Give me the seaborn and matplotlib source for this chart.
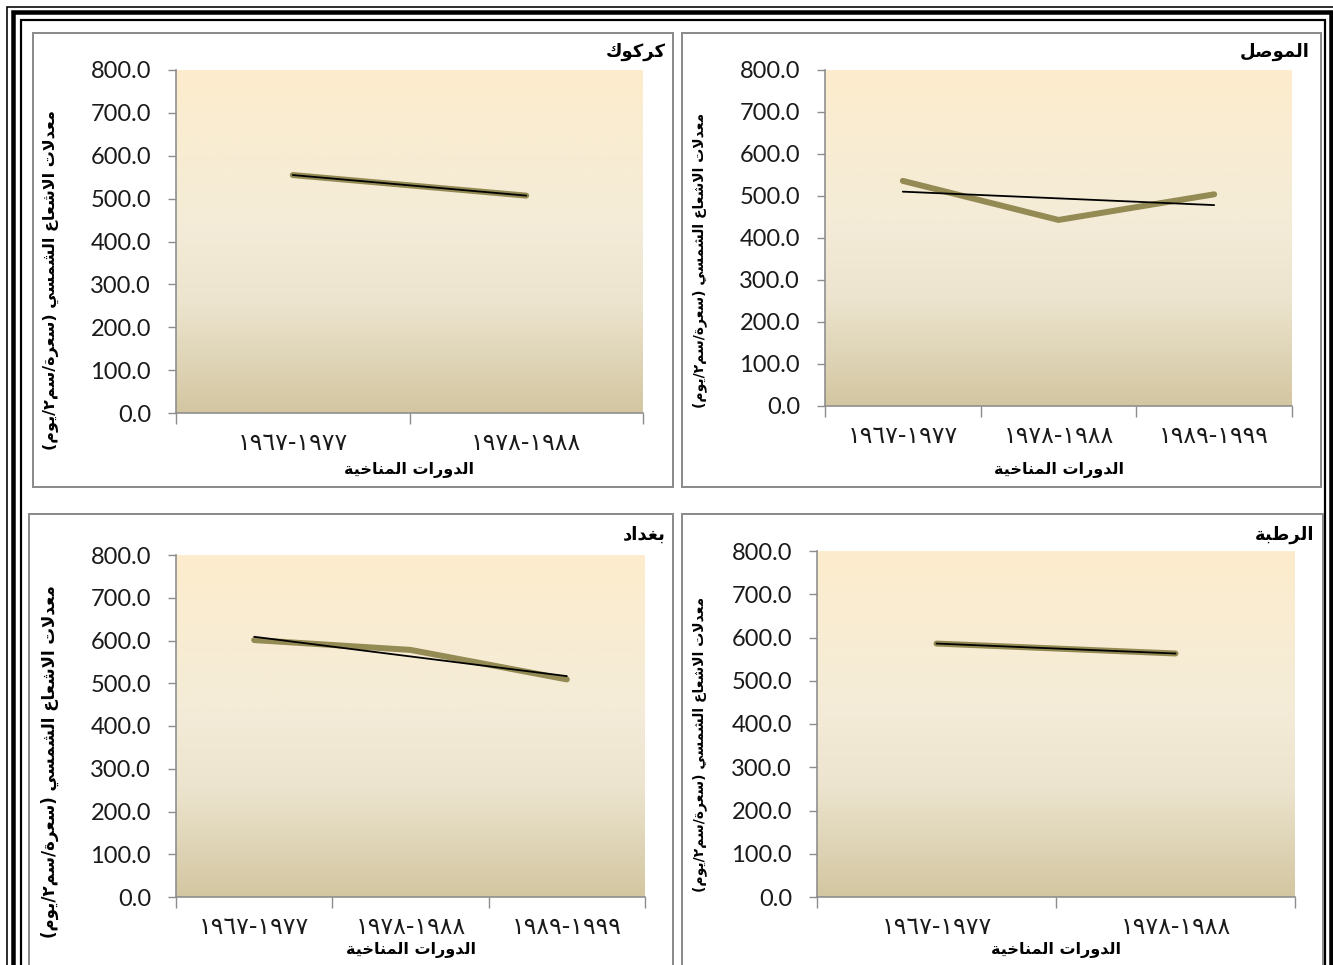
import numpy as np
import pandas as pd
import matplotlib
matplotlib.use("Agg")
import matplotlib.pyplot as plt
from matplotlib.patches import Rectangle
import seaborn as sns

# ---------------------------------------------------------------- data
periods = ["١٩٦٧-١٩٧٧", "١٩٧٨-١٩٨٨", "١٩٨٩-١٩٩٩"]

mosul_vals = [536.0, 443.0, 504.0]
kirkuk_vals = [555.0, 507.0]
rutba_vals = [586.0, 563.0]
baghdad_vals = [601.0, 578.0, 509.0]

station_names = ["الموصل", "كركوك", "الرطبة", "بغداد"]
y_label = "معدلات الاشعاع الشمسي (سعرة/سم٢/يوم)"
x_label = "الدورات المناخية"
y_ticks = [0, 100, 200, 300, 400, 500, 600, 700, 800]

# ---------------------------------------------------------------- arabic shaping
DUAL = {'ب': 0xFE8F, 'ت': 0xFE95, 'ث': 0xFE99, 'ج': 0xFE9D, 'ح': 0xFEA1,
        'خ': 0xFEA5, 'س': 0xFEB1, 'ش': 0xFEB5, 'ص': 0xFEB9, 'ض': 0xFEBD,
        'ط': 0xFEC1, 'ظ': 0xFEC5, 'ع': 0xFEC9, 'غ': 0xFECD, 'ف': 0xFED1,
        'ق': 0xFED5, 'ك': 0xFED9, 'ل': 0xFEDD, 'م': 0xFEE1, 'ن': 0xFEE5,
        'ه': 0xFEE9, 'ي': 0xFEF1, 'ئ': 0xFE89}
RIGHT = {'آ': 0xFE81, 'أ': 0xFE83, 'ؤ': 0xFE85, 'إ': 0xFE87, 'ا': 0xFE8D,
         'ة': 0xFE93, 'د': 0xFEA9, 'ذ': 0xFEAB, 'ر': 0xFEAD, 'ز': 0xFEAF,
         'و': 0xFEED, 'ى': 0xFEEF}
LAMALEF = {'آ': 0xFEF5, 'أ': 0xFEF7, 'إ': 0xFEF9, 'ا': 0xFEFB}
MIRROR = {'(': ')', ')': '(', '[': ']', ']': '['}
DIGITS = set("0123456789٠١٢٣٤٥٦٧٨٩")


def shape(s):
    toks = []
    i = 0
    while i < len(s):
        c = s[i]
        if c == 'ل' and i + 1 < len(s) and s[i + 1] in LAMALEF:
            toks.append(('LA', s[i + 1]))
            i += 2
        else:
            toks.append(('C', c))
            i += 1

    def joins_next(t):
        return t[0] == 'C' and t[1] in DUAL

    def joins_prev(t):
        return t[0] == 'LA' or t[1] in DUAL or t[1] in RIGHT

    out = []
    for k, t in enumerate(toks):
        prev = toks[k - 1] if k > 0 else None
        nxt = toks[k + 1] if k + 1 < len(toks) else None
        p = prev is not None and joins_next(prev) and joins_prev(t)
        n = nxt is not None and joins_next(t) and joins_prev(nxt)
        if t[0] == 'LA':
            out.append(chr(LAMALEF[t[1]] + (1 if p else 0)))
        elif t[1] in DUAL:
            b = DUAL[t[1]]
            out.append(chr(b + (3 if (p and n) else 1 if p else 2 if n else 0)))
        elif t[1] in RIGHT:
            out.append(chr(RIGHT[t[1]] + (1 if p else 0)))
        else:
            out.append(t[1])
    return ''.join(out)


def ar(s):
    """Shape Arabic text and put it in visual (left-to-right) order."""
    rev = [MIRROR.get(c, c) for c in reversed(shape(s))]
    # keep digit runs left-to-right
    res, run = [], []
    for c in rev:
        if c in DIGITS:
            run.append(c)
        else:
            res.extend(reversed(run))
            run = []
            res.append(c)
    res.extend(reversed(run))
    return ''.join(res)


# ---------------------------------------------------------------- style
sns.set_theme(style="white")
plt.rcParams['font.family'] = ['DejaVu Sans']

W, H = 1333, 965
fig = plt.figure(figsize=(W / 100, H / 100), dpi=100)
fig.patch.set_facecolor("white")

LINE_COL = "#948A54"
SPINE_COL = "#8C8C8C"
PX = 0.72  # points per pixel


def frect(x0, y0, x1, y1, color, lw_px):
    r = Rectangle((x0 / W, 1 - y1 / H), (x1 - x0) / W, (y1 - y0) / H,
                  transform=fig.transFigure, fill=False, edgecolor=color,
                  linewidth=lw_px * PX, zorder=10)
    fig.add_artist(r)


# page frame
frect(7.5, 7.5, 1345, 1000, "black", 1.6)
frect(13, 12.5, 1330.5, 1000, "black", 4.5)
frect(20.5, 20, 1325, 1000, "black", 2.2)

# chart boxes
frect(33, 33, 673, 487, SPINE_COL, 2)
frect(682, 33, 1321, 487, SPINE_COL, 2)
frect(29, 514, 673, 1000, SPINE_COL, 2)
frect(682, 514, 1323, 1000, SPINE_COL, 2)

# vertical gradient for the plot area (top -> bottom)
stops = np.array([
    [0.00, 253, 236, 205],
    [0.45, 244, 236, 216],
    [0.68, 236, 228, 206],
    [1.00, 211, 198, 161],
])
tt = np.linspace(0, 1, 256)
grad = np.stack([np.interp(tt, stops[:, 0], stops[:, c]) for c in (1, 2, 3)], axis=1) / 255.0
grad_img = grad[:, None, :]


def panel(px0, px1, pytop, pybot, values, name, title_xy,
          ylab_x, ylab_y, ylab_size, xlab_y):
    ax = fig.add_axes([px0 / W, 1 - pybot / H, (px1 - px0) / W, (pybot - pytop) / H])
    n = len(values)
    df = pd.DataFrame({"pos": np.arange(n) + 0.5, "value": values})

    ax.imshow(grad_img, extent=(0, n, 0, 800), aspect="auto", origin="upper",
              zorder=0, interpolation="bilinear")

    sns.lineplot(data=df, x="pos", y="value", ax=ax, color=LINE_COL,
                 linewidth=6 * PX, solid_capstyle="round", zorder=3)
    sns.regplot(data=df, x="pos", y="value", ax=ax, scatter=False, ci=None,
                truncate=True, color="black",
                line_kws=dict(linewidth=1.8 * PX, zorder=4))

    ax.set_xlim(0, n)
    ax.set_ylim(0, 800)
    ax.set_facecolor("none")

    for s in ("top", "right"):
        ax.spines[s].set_visible(False)
    for s in ("left", "bottom"):
        ax.spines[s].set_color(SPINE_COL)
        ax.spines[s].set_linewidth(1.6 * PX)

    ax.set_yticks(y_ticks)
    ax.set_yticklabels([f"{v:.1f}" for v in y_ticks], fontfamily="Lato",
                       fontsize=17, color="#1a1a1a")
    ax.tick_params(axis="y", which="major", direction="out", length=6,
                   width=1.4 * PX, color=SPINE_COL, pad=12, left=True)

    ax.set_xticks(np.arange(n + 1))
    ax.set_xticklabels([])
    ax.set_xticks(np.arange(n) + 0.5, minor=True)
    ax.set_xticklabels(periods[:n], minor=True, fontsize=17, color="#1a1a1a")
    ax.tick_params(axis="x", which="major", direction="out", length=8,
                   width=1.4 * PX, color=SPINE_COL, bottom=True)
    ax.tick_params(axis="x", which="minor", length=0, pad=13)

    ax.set_xlabel(ar(x_label), fontsize=11.5, fontweight="bold", color="black")
    ax.set_ylabel(ar(y_label), fontsize=ylab_size, fontweight="bold", color="black")
    # label positions given as the text centre in pixels
    ax.xaxis.set_label_coords(0.5, -(xlab_y - 8 - pybot) / (pybot - pytop))
    ax.yaxis.set_label_coords(-(px0 - ylab_x - 7) / (px1 - px0),
                              (pybot - ylab_y) / (pybot - pytop))

    fig.text(title_xy[0] / W, 1 - title_xy[1] / H, ar(name), ha="right",
             va="center", fontsize=13, fontweight="bold", color="black")
    return ax


panel(825, 1292, 70, 406, mosul_vals, station_names[0], (1310, 52),
      700, 260, 10.0, 470)
panel(176, 643, 70, 413, kirkuk_vals, station_names[1], (666, 52),
      52, 280, 11.5, 470)
panel(817, 1295, 551, 897, rutba_vals, station_names[2], (1314, 535),
      700, 744, 10.0, 950)
panel(176, 645, 555, 897, baghdad_vals, station_names[3], (666, 535),
      52, 762, 12.0, 950)

fig.savefig("out.png", dpi=100, facecolor="white")
